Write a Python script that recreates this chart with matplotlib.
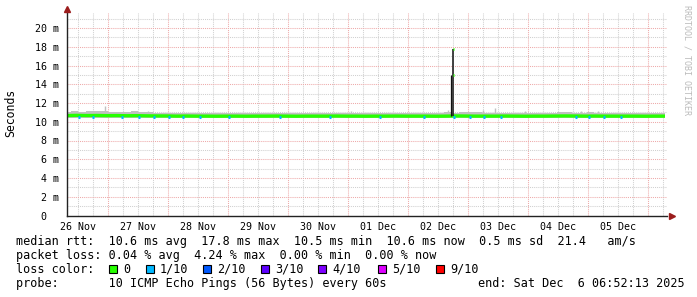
import matplotlib.pyplot as plt
import numpy as np
from matplotlib.patches import Rectangle

plt.rcParams['font.family'] = ['DejaVu Sans Mono', 'DejaVu Sans']

# time axis in hours since 26 Nov 00:00
start_h = 7.6
end_h = 246.8

# median rtt (ms), evenly spaced samples from start_h to end_h
median_ms = [10.66, 10.68, 10.66, 10.67, 10.65, 10.66, 10.64, 10.65,
             10.63, 10.62, 10.62, 10.60, 10.61, 10.60, 10.60, 10.59,
             10.60, 10.60, 10.59, 10.60, 10.60, 10.61, 10.60, 10.59,
             10.60, 10.60, 10.60, 10.61, 10.60, 10.60, 10.59, 10.60,
             10.60, 10.61, 10.60, 10.60, 10.60, 10.59, 10.60, 10.62,
             10.61, 10.60, 10.60, 10.60, 10.61, 10.60, 10.59, 10.60,
             10.60, 10.61, 10.62, 10.61, 10.60, 10.61, 10.60, 10.60,
             10.60, 10.60, 10.59, 10.60, 10.60]

# top of the smoke (ms), evenly spaced samples
smoke_top = [11.05, 11.10, 11.05, 11.10, 11.15, 11.10, 11.05, 11.00, 11.05, 11.10,
             11.05, 11.00, 10.95, 10.95, 10.90, 10.95, 10.90, 10.90, 10.95, 10.90,
             10.90, 10.90, 10.95, 10.90, 10.90, 10.90, 10.90, 10.95, 10.90, 10.90,
             10.90, 10.90, 10.90, 10.95, 10.90, 10.90, 10.90, 10.90, 10.90, 10.95,
             10.90, 10.90, 10.90, 10.90, 10.90, 10.95, 10.90, 10.90, 10.95, 10.90,
             10.95, 11.00, 10.95, 11.00, 11.05, 11.00, 10.95, 10.95, 10.90, 10.90,
             10.90, 10.95, 10.90, 10.95, 10.90, 10.95, 11.00, 11.00, 10.95, 10.95,
             11.00, 10.95, 10.95, 10.90, 10.95, 10.90, 10.90, 10.95, 10.90, 10.90,
             10.90]
smoke_low = 10.40

# thin single-ping outliers in the smoke
outlier_hours = [22.8, 40.0, 121.2, 160.0, 174.0, 178.8, 190.8, 213.2, 220.0]
outlier_ms = [11.7, 11.2, 11.2, 11.3, 11.25, 11.5, 11.2, 11.15, 11.15]

# samples with 1/10 packet loss
loss_hours = [12.4, 18.0, 29.6, 36.4, 42.4, 48.4, 54.0, 60.8, 72.4, 92.8,
              112.8, 132.8, 150.4, 162.4, 168.8, 174.4, 181.2, 211.2, 216.4,
              222.4, 229.2]
loss_ms = [10.55] * len(loss_hours)

# the rtt spike on 02 Dec
spike_hours = [161.2, 162.0]
spike_ms = [15.0, 17.8]

day_labels = ["26 Nov", "27 Nov", "28 Nov", "29 Nov", "30 Nov",
              "01 Dec", "02 Dec", "03 Dec", "04 Dec", "05 Dec"]
y_values = [0, 2, 4, 6, 8, 10, 12, 14, 16, 18, 20]
y_labels = ["0  ", "2 m", "4 m", "6 m", "8 m", "10 m", "12 m", "14 m",
            "16 m", "18 m", "20 m"]

loss_names = ["0", "1/10", "2/10", "3/10", "4/10", "5/10", "9/10"]
loss_colors = ["#26ff00", "#00b8ff", "#0059ff", "#5e00ff", "#7e00ff",
               "#dd00ff", "#ff0000"]

W, H = 697, 297
fig = plt.figure(figsize=(W / 100, H / 100), dpi=100)
ax = fig.add_axes([67 / W, (H - 215.5) / H, 600 / W, 202.5 / H])
ax.set_xlim(start_h, start_h + 240)
ax.set_ylim(0, 21.6)

# grid
for h in np.arange(0, 252, 6):
    if start_h < h < start_h + 240:
        c = '#eeaaaa' if h % 24 == 0 else '#d0d0d0'
        ax.axvline(h, color=c, lw=0.75, ls=(0, (1, 1)), zorder=0)
for v in np.arange(1, 22, 1):
    c = '#eeaaaa' if v % 2 == 0 else '#d0d0d0'
    ax.axhline(v, color=c, lw=0.75, ls=(0, (1, 1)), zorder=0)

# smoke
t_smoke = np.linspace(start_h, end_h, len(smoke_top))
ax.fill_between(t_smoke, smoke_low, smoke_top, step='mid',
                color='#c0c0c0', lw=0, zorder=2)
ax.vlines(outlier_hours, 10.6, outlier_ms, color='#c0c0c0', lw=1, zorder=2)

# median rtt
t_med = np.linspace(start_h, end_h, len(median_ms))
ax.plot(t_med, median_ms, color=loss_colors[0], lw=2.4, zorder=3,
        solid_capstyle='butt')
for h, m in zip(loss_hours, loss_ms):
    ax.plot([h - 0.4, h + 0.4], [m, m], color=loss_colors[1], lw=2.2,
            zorder=4, solid_capstyle='butt')

# spike
ax.vlines(spike_hours[0], 10.6, spike_ms[0], color='#111111', lw=0.9, zorder=4)
ax.vlines(spike_hours[1], 10.6, spike_ms[1], color='#222222', lw=1.2, zorder=4)
ax.plot([spike_hours[1] - 0.2, spike_hours[1] + 0.2], [spike_ms[1], spike_ms[1]],
        color=loss_colors[0], lw=2, zorder=5, solid_capstyle='butt')
ax.plot([spike_hours[1] - 0.2, spike_hours[1] + 0.2], [spike_ms[0], spike_ms[0]],
        color=loss_colors[0], lw=2, zorder=5, solid_capstyle='butt')

# axes
for s in ['top', 'right']:
    ax.spines[s].set_visible(False)
for s in ['left', 'bottom']:
    ax.spines[s].set_color('#222222')
    ax.spines[s].set_linewidth(1)
    ax.spines[s].set_zorder(6)
ax.plot(1.008, 0, '>', color='#9b1c1c', ms=4, transform=ax.transAxes,
        clip_on=False, zorder=7)
ax.plot(0, 1.02, '^', color='#9b1c1c', ms=4, transform=ax.transAxes,
        clip_on=False, zorder=7)

ax.set_xticks(np.arange(len(day_labels)) * 24 + 12)
ax.set_xticklabels(day_labels, fontsize=7.2)
ax.set_yticks(y_values)
ax.set_yticklabels(y_labels, fontsize=7.2)
ax.tick_params(length=0)
ax.tick_params(axis='x', pad=5)
ax.tick_params(axis='y', pad=6)

fig.text(11 / W, 1 - 113 / H, 'Seconds', rotation=90, ha='center',
         va='center', fontsize=8.3)
fig.text(687 / W, 1 - 5 / H, 'RRDTOOL / TOBI OETIKER', rotation=270,
         ha='center', va='top', fontsize=6, color='#bbbbbb')

# legend lines
fs = 8.5
fig.text(16 / W, 1 - 241.5 / H,
         'median rtt:  10.6 ms avg  17.8 ms max  10.5 ms min  10.6 ms now  0.5 ms sd  21.4   am/s',
         fontsize=fs, va='center')
fig.text(16 / W, 1 - 255.5 / H,
         'packet loss: 0.04 % avg  4.24 % max  0.00 % min  0.00 % now',
         fontsize=fs, va='center')
fig.text(16 / W, 1 - 269.5 / H, 'loss color:', fontsize=fs, va='center')
box_x = [109, 146, 203, 261, 318, 378, 436]
for x, name, c in zip(box_x, loss_names, loss_colors):
    fig.add_artist(Rectangle((x / W, 1 - 273 / H), 8 / W, 8 / H,
                             transform=fig.transFigure, facecolor=c,
                             edgecolor='black', lw=0.8))
    fig.text((x + 14) / W, 1 - 269.5 / H, name, fontsize=fs, va='center')
fig.text(16 / W, 1 - 283.5 / H,
         'probe:       10 ICMP Echo Pings (56 Bytes) every 60s',
         fontsize=fs, va='center')
fig.text(478 / W, 1 - 283.5 / H, 'end: Sat Dec  6 06:52:13 2025',
         fontsize=fs, va='center')

plt.savefig('out.png', dpi=100)
